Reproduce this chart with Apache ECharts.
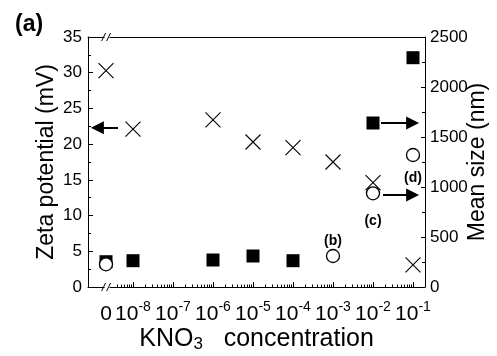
<!DOCTYPE html>
<html>
<head>
<meta charset="utf-8">
<script src="https://cdn.jsdelivr.net/npm/echarts@6/dist/echarts.min.js"></script>
<style>
  html, body {margin: 0; padding: 0; background: #fff;}
  #main {width: 497px; height: 356px;}
</style>
</head>
<body>
<div id="main"></div>
<script>
const FONT = 'Liberation Sans, Arial, sans-serif';

// x axis: KNO3 concentration (M), '0' sits just after the axis break
const concTicks = ['0', '1e-8', '1e-7', '1e-6', '1e-5', '1e-4', '1e-3', '1e-2', '1e-1'];

// zeta potential (mV), left axis, crosses
const zetaConc = ['0', '1e-8', '1e-6', '1e-5', '1e-4', '1e-3', '1e-2', '1e-1'];
const zetaMV = [30.3, 22.1, 23.4, 20.3, 19.5, 17.5, 14.6, 3.1];

// mean size (nm), right axis, filled squares
const sizeConc = ['0', '1e-8', '1e-6', '1e-5', '1e-4', '1e-2', '1e-1'];
const sizeNm = [253, 263, 270, 310, 263, 1640, 2293];

// mean size (nm), right axis, open circles + sample tags
const size2Conc = ['0', '1e-3', '1e-2', '1e-1'];
const size2Nm = [227, 310, 937, 1320];
const size2Tags = ['', '(b)', '(c)', '(d)'];

// arrows [fromConc(log), toConc(log), value]
const arrowZeta = [-8.375, -8.89, 22.3];
const arrowSquare = [-1.8, -1.01, 1640];
const arrowCircle = [-1.75, -1.01, 920];

const ZERO_AT = -8.675;   // where '0' is drawn on the log axis
const X_MIN = -9.125, X_MAX = -0.7;

const pos = c => c === '0' ? ZERO_AT : Math.round(Math.log10(Number(c)) * 1000) / 1000;
const majorTicks = concTicks.filter(c => c !== '0').map(pos);
const minorTicks = [];
for (let n = -9; n <= -1; n++) {
  for (let k = 2; k <= 9; k++) {
    const v = n + Math.log10(k);
    if (v > -8.5 && v < X_MAX) minorTicks.push(v);
  }
}

const chart = echarts.init(document.getElementById('main'));

const crossPath = 'path://M0,0L10,10M10,0L0,10';
const arrowLine = (a) => ({
  silent: true,
  symbol: ['none', 'triangle'],
  symbolSize: 13,
  label: {show: false},
  lineStyle: {color: '#000', width: 2, type: 'solid', opacity: 1},
  itemStyle: {color: '#000', opacity: 1},
  data: [[{coord: [a[0], a[2]]}, {coord: [a[1], a[2]]}]]
});

const xBase = {
  type: 'value', min: X_MIN, max: X_MAX, position: 'bottom',
  splitLine: {show: false}
};

chart.setOption({
  animation: false,
  textStyle: {fontFamily: FONT, color: '#000'},
  title: {
    text: '(a)', left: 15, top: 13, padding: 0,
    textStyle: {fontFamily: FONT, fontSize: 23, fontWeight: 'bold', color: '#000'}
  },
  grid: {left: 88, right: 72, top: 37, bottom: 69, containLabel: false, outerBoundsMode: 'none'},
  xAxis: [
    Object.assign({}, xBase, {
      name: '{n|KNO}{s|3}{n|   concentration}',
      nameLocation: 'middle',
      nameGap: 38,
      nameMoveOverlap: false,
      nameTextStyle: {
        rich: {
          n: {fontFamily: FONT, fontSize: 25, lineHeight: 28, color: '#000'},
          s: {fontFamily: FONT, fontSize: 17, lineHeight: 12, verticalAlign: 'bottom', color: '#000'}
        }
      },
      axisLine: {lineStyle: {color: '#000', width: 1}},
      axisTick: {inside: true, length: 5, customValues: majorTicks, lineStyle: {color: '#000'}},
      axisLabel: {
        customValues: [ZERO_AT].concat(majorTicks),
        margin: 13,
        formatter: v => Math.abs(v - ZERO_AT) < 0.01 ? '{a|0}' : '{a|10}{b|' + Math.round(v) + '}',
        rich: {
          a: {fontFamily: FONT, fontSize: 21, lineHeight: 28, color: '#000'},
          b: {fontFamily: FONT, fontSize: 14, lineHeight: 14, verticalAlign: 'top', color: '#000'}
        }
      }
    }),
    Object.assign({}, xBase, {
      axisLine: {show: false},
      axisTick: {inside: true, length: 2.5, customValues: minorTicks, lineStyle: {color: '#000'}},
      axisLabel: {show: false}
    }),
    Object.assign({}, xBase, {
      position: 'top',
      axisLine: {lineStyle: {color: '#000', width: 1}},
      axisTick: {show: false},
      axisLabel: {show: false}
    })
  ],
  yAxis: [
    {
      type: 'value', min: 0, max: 35, interval: 5, position: 'left',
      name: 'Zeta potential (mV)', nameLocation: 'middle', nameRotate: 90, nameGap: 30,
      nameMoveOverlap: false,
      nameTextStyle: {fontFamily: FONT, fontSize: 23, color: '#000'},
      axisLine: {show: true, lineStyle: {color: '#000'}},
      axisTick: {inside: true, length: 5, lineStyle: {color: '#000'}},
      minorTick: {show: true, splitNumber: 2, length: 3, lineStyle: {color: '#000'}},
      axisLabel: {fontFamily: FONT, fontSize: 17, color: '#000', margin: 6},
      splitLine: {show: false}
    },
    {
      type: 'value', min: 0, max: 2500, interval: 500, position: 'right',
      name: 'Mean size (nm)', nameLocation: 'middle', nameRotate: 90, nameGap: 41,
      nameMoveOverlap: false,
      nameTextStyle: {fontFamily: FONT, fontSize: 23, color: '#000'},
      axisLine: {show: true, lineStyle: {color: '#000'}},
      axisTick: {inside: true, length: 4, lineStyle: {color: '#000'}},
      minorTick: {show: true, splitNumber: 2, length: 3, lineStyle: {color: '#000'}},
      axisLabel: {fontFamily: FONT, fontSize: 17, color: '#000', margin: 5, formatter: v => String(v)},
      splitLine: {show: false}
    }
  ],
  series: [
    {
      name: 'zeta', type: 'scatter', xAxisIndex: 0, yAxisIndex: 0,
      symbol: crossPath, symbolSize: 15,
      itemStyle: {color: 'rgba(0,0,0,0)', borderColor: '#000', borderWidth: 1.1, opacity: 1},
      data: zetaConc.map((c, i) => [pos(c), zetaMV[i]]),
      markLine: arrowLine(arrowZeta)
    },
    {
      name: 'size', type: 'scatter', xAxisIndex: 0, yAxisIndex: 1,
      symbol: 'rect', symbolSize: 13,
      itemStyle: {color: '#000', opacity: 1},
      data: sizeConc.map((c, i) => [pos(c), sizeNm[i]]),
      markLine: arrowLine(arrowSquare)
    },
    {
      name: 'size2', type: 'scatter', xAxisIndex: 0, yAxisIndex: 1,
      symbol: 'circle', symbolSize: 13,
      itemStyle: {color: '#fff', borderColor: '#000', borderWidth: 1.3, opacity: 1},
      label: {
        show: true, formatter: p => size2Tags[p.dataIndex],
        fontFamily: FONT, fontSize: 14, fontWeight: 'bold', color: '#000', opacity: 1
      },
      data: size2Conc.map((c, i) => {
        const item = {value: [pos(c), size2Nm[i]]};
        if (size2Tags[i] === '(b)') item.label = {position: 'top', distance: 1};
        if (size2Tags[i] === '(c)') item.label = {position: 'bottom', distance: 14};
        if (size2Tags[i] === '(d)') item.label = {position: 'bottom', distance: 9};
        return item;
      }),
      markLine: arrowLine(arrowCircle)
    }
  ]
});

// axis break marks on bottom and top lines
const bx = chart.convertToPixel({xAxisIndex: 0}, ZERO_AT + 0.04);
const yb = chart.convertToPixel({yAxisIndex: 0}, 0);
const yt = chart.convertToPixel({yAxisIndex: 0}, 35);
const breakAt = y => [
  {type: 'rect', shape: {x: bx - 3, y: y - 2, width: 5, height: 4}, style: {fill: '#fff'}, z: 100},
  {type: 'line', shape: {x1: bx - 6, y1: y + 4, x2: bx - 2, y2: y - 4}, style: {stroke: '#000', lineWidth: 1}, z: 101},
  {type: 'line', shape: {x1: bx - 1, y1: y + 4, x2: bx + 3, y2: y - 4}, style: {stroke: '#000', lineWidth: 1}, z: 101}
];
chart.setOption({graphic: breakAt(yb).concat(breakAt(yt))});
</script>
</body>
</html>
